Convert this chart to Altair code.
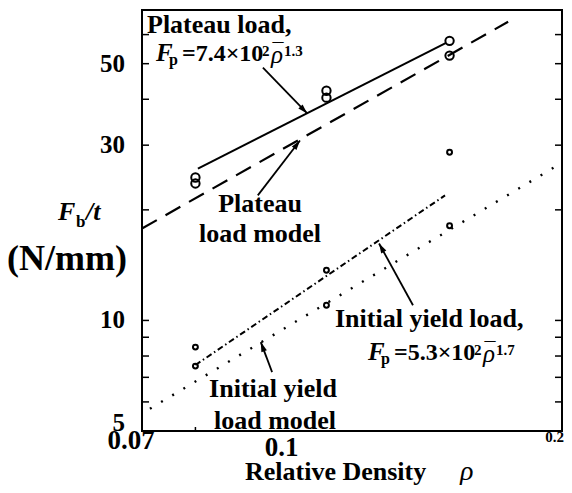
import altair as alt
import pandas as pd

SERIF = "Liberation Serif"

plateau_x = [0.080, 0.080, 0.111, 0.111, 0.151, 0.151]
plateau_y = [24.5, 23.6, 42.2, 40.4, 57.7, 52.6]
yield_x = [0.080, 0.080, 0.111, 0.111, 0.151, 0.151]
yield_y = [8.46, 7.51, 13.7, 11.0, 28.7, 18.1]

fit_plateau_x = [0.0805, 0.1497]
fit_plateau_y = [25.9, 57.0]
model_plateau_x = [0.070, 0.1748]
model_plateau_y = [17.8, 65.0]
fit_yield_x = [0.080, 0.1493]
fit_yield_y = [7.56, 21.9]
model_yield_x = [0.0714, 0.1976]
model_yield_y = [5.75, 26.4]

# annotation arrows (start -> tip) in data units, head angle in degrees
arrow_x1 = [0.0947, 0.0935, 0.1378, 0.0969]
arrow_y1 = [48.8, 21.9, 11.0, 7.23]
arrow_x2 = [0.1058, 0.1039, 0.1266, 0.0942]
arrow_y2 = [36.6, 30.9, 16.2, 8.73]
arrow_angle = [136, 37, 331, 340]

y_minor_ticks = [6, 7, 8, 9, 10, 20, 30, 40, 50, 60]
y_tick_labels = [10, 30, 50]
y_bottom_label = [5]
x_tick_labels = ["0.07", "0.1", "0.2"]
x_tick_values = [0.07, 0.1, 0.2]

xs = alt.Scale(type="log", domain=[0.07, 0.2])
ys = alt.Scale(type="log", domain=[5, 70])


def X(f):
    return alt.X(f, type="quantitative", scale=xs, axis=None)


def Y(f):
    return alt.Y(f, type="quantitative", scale=ys, axis=None)


def line(xv, yv, dash=None, width=2.0):
    df = pd.DataFrame({"x": xv, "y": yv})
    kw = dict(color="black", strokeWidth=width)
    if dash:
        kw["strokeDash"] = dash
    return alt.Chart(df).mark_line(**kw).encode(x=X("x"), y=Y("y"))


one = pd.DataFrame({"a": [0]})


def txt(s, px, py, size, weight="bold", style="normal", align="left", baseline="alphabetic", font=SERIF):
    return alt.Chart(one).mark_text(
        text=s, fontSize=size, fontWeight=weight, fontStyle=style, align=align,
        baseline=baseline, font=font, color="black"
    ).encode(x=alt.value(px), y=alt.value(py))


layers = []

# lines
layers.append(line(fit_plateau_x, fit_plateau_y, width=2.0))
layers.append(line(model_plateau_x, model_plateau_y, dash=[17, 10], width=2.2))
layers.append(line(fit_yield_x, fit_yield_y, dash=[6, 3, 1.5, 3], width=2.0))
layers.append(line(model_yield_x, model_yield_y, dash=[2, 11], width=2.4))

# points
layers.append(
    alt.Chart(pd.DataFrame({"x": plateau_x, "y": plateau_y}))
    .mark_point(shape="circle", size=70, color="black", strokeWidth=2, filled=False, opacity=1)
    .encode(x=X("x"), y=Y("y"))
)
layers.append(
    alt.Chart(pd.DataFrame({"x": yield_x, "y": yield_y}))
    .mark_point(shape="circle", size=24, color="black", strokeWidth=2, filled=False, opacity=1)
    .encode(x=X("x"), y=Y("y"))
)

# arrows
arr = pd.DataFrame({"x1": arrow_x1, "y1": arrow_y1, "x2": arrow_x2, "y2": arrow_y2, "ang": arrow_angle})
layers.append(
    alt.Chart(arr).mark_rule(color="black", strokeWidth=1.8)
    .encode(x=X("x1"), y=Y("y1"), x2="x2", y2="y2")
)
layers.append(
    alt.Chart(arr).mark_point(shape="M0,0 L-0.3,1 L0.3,1 Z", filled=True, size=380, color="black", opacity=1)
    .encode(x=X("x2"), y=Y("y2"), angle=alt.Angle("ang:Q", scale=None))
)

# inward ticks on left and right frame
tk = pd.DataFrame({"v": y_minor_ticks})
layers.append(alt.Chart(tk).mark_rule(color="black", strokeWidth=1.5)
              .encode(y=Y("v"), x=alt.value(0), x2=alt.value(7)))
layers.append(alt.Chart(tk).mark_rule(color="black", strokeWidth=1.5)
              .encode(y=Y("v"), x=alt.value(413), x2=alt.value(420)))
layers.append(alt.Chart(pd.DataFrame({"v": [0.08]})).mark_rule(color="black", strokeWidth=1.5)
              .encode(x=X("v"), y=alt.value(421), y2=alt.value(417)))

# y tick labels
layers.append(
    alt.Chart(pd.DataFrame({"v": y_tick_labels})).mark_text(
        align="right", baseline="middle", dx=-17, fontSize=25, fontWeight="bold", font=SERIF, color="black")
    .encode(y=Y("v"), x=alt.value(0), text=alt.Text("v:Q"))
)
layers.append(
    alt.Chart(pd.DataFrame({"v": y_bottom_label})).mark_text(
        align="right", baseline="middle", dx=-17, dy=-8, fontSize=25, fontWeight="bold", font=SERIF, color="black")
    .encode(y=Y("v"), x=alt.value(0), text=alt.Text("v:Q"))
)

# x tick labels
xl_specs = [(-11, 439, 27, "center"), (-3, 446, 27, "center"), (2, 432, 15, "right")]
for lab, val, (dx, py, fs, al) in zip(x_tick_labels, x_tick_values, xl_specs):
    layers.append(
        alt.Chart(pd.DataFrame({"v": [val], "lab": [lab]})).mark_text(
            align=al, baseline="alphabetic", dx=dx, fontSize=fs, fontWeight="bold", font=SERIF, color="black")
        .encode(x=X("v"), y=alt.value(py), text="lab:N")
    )

# axis titles
layers += [
    txt("F", -84, 210, 26, style="italic"),
    txt("b", -66, 217, 17),
    txt("/t", -56, 210, 26, style="italic"),
    txt("(N/mm)", -75, 260, 36, align="center"),
    txt("Relative Density", 103, 470, 26),
    txt("ρ", 318, 470, 28, weight="normal", style="italic"),
]


def formula(px, py, body, sup):
    return [
        txt("F", px, py, 25, style="italic"),
        txt("p", px + 13, py + 4, 16),
        txt(body, px + 26, py, 24),
        txt("2", px + 106, py - 5, 15),
        txt("ρ", px + 115, py + 2, 25, weight="normal", style="italic"),
        txt("¯", px + 122, py - 3, 22, weight="normal", align="center"),
        txt(sup, px + 128, py - 5, 15),
    ]


# annotations
layers += [txt("Plateau load,", 5, 23, 26)]
layers += formula(14, 51, "=7.4×10", "1.3")
layers += [
    txt("Plateau", 118, 202, 26, align="center"),
    txt("load model", 118, 232, 26, align="center"),
    txt("Initial yield load,", 193, 317, 26),
]
layers += formula(226, 350, "=5.3×10", "1.7")
layers += [
    txt("Initial yield", 131, 387, 26, align="center"),
    txt("load model", 133, 419, 26, align="center"),
]

chart = (
    alt.layer(*layers)
    .properties(
        width=420, height=421,
        autosize=alt.AutoSizeParams(type="none"),
        padding={"left": 134, "top": 2, "right": 2, "bottom": 54},
        background="white",
    )
    .configure_view(stroke="black", strokeWidth=2)
)

chart.save("out.html", embed_options={"renderer": "svg", "actions": False})
